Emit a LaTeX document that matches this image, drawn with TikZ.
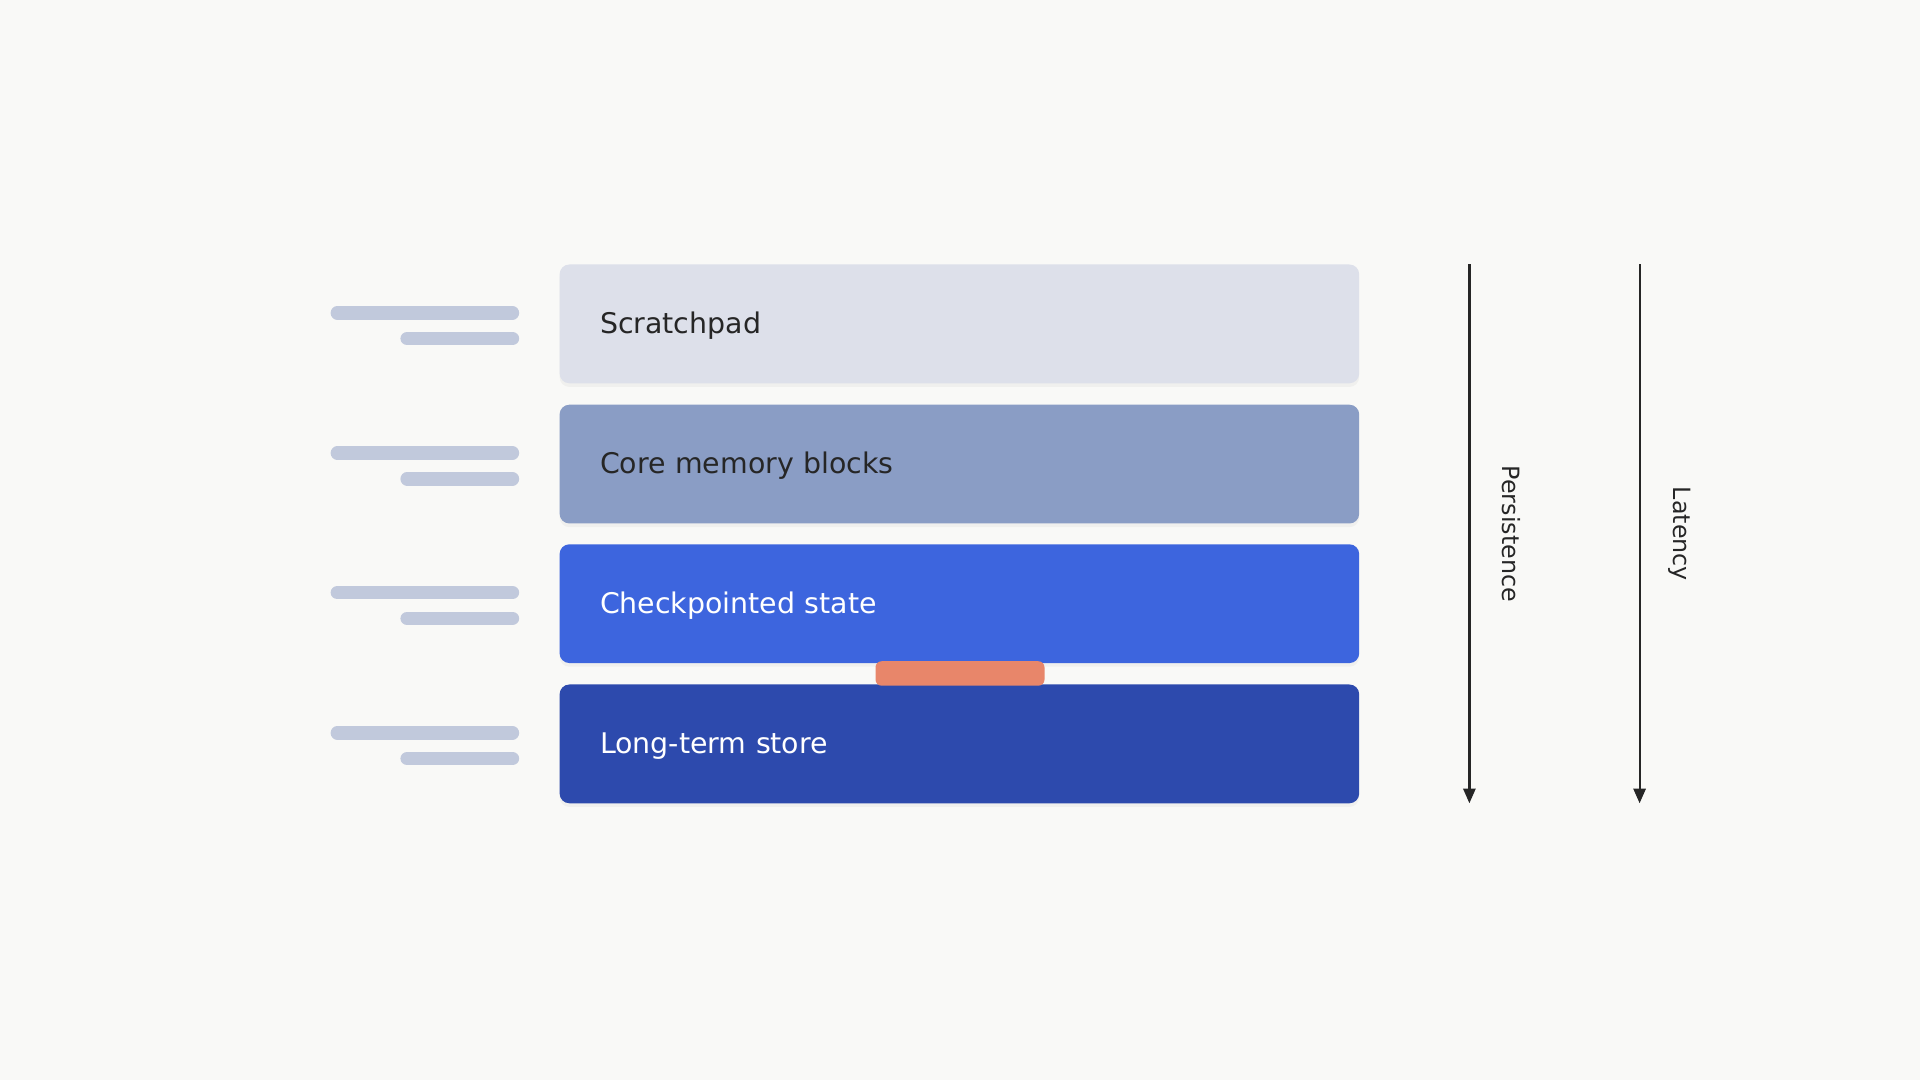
\documentclass[tikz,border=0pt]{standalone}
\usepackage{fontspec}
\setmainfont{DejaVu Sans}
\usepackage{tikz}
\usepackage{xcolor}
\usetikzlibrary{arrows.meta,shadows}
\definecolor{paper}{HTML}{F9F9F7}
\definecolor{ink}{HTML}{262626}
\definecolor{scratchfill}{HTML}{DDE0EA}
\definecolor{corefill}{HTML}{8A9DC5}
\definecolor{checkfill}{HTML}{3D65DE}
\definecolor{storefill}{HTML}{2D4AAD}
\definecolor{barfill}{HTML}{C1C9DC}
\definecolor{tabfill}{HTML}{E8866A}
\tikzset{layer/.style={rectangle, rounded corners=8bp, minimum width=653bp, minimum height=97bp,
    text width=587bp, text height=17.7bp, text depth=1.7bp, inner xsep=33bp, align=left,
    font=\fontsize{23.3}{27}\selectfont,
    drop shadow={opacity=0.07, shadow xshift=0bp, shadow yshift=-3bp}}}
\tikzset{tab/.style={rectangle, rounded corners=5bp, fill=tabfill, minimum width=138bp, minimum height=20bp, inner sep=0pt}}
\tikzset{bar/.style={line width=11bp, line cap=round, draw=barfill}}
\tikzset{arrow/.style={-{Triangle[length=12bp,width=10bp]}, line width=1.8bp, draw=ink}}
\tikzset{axislabel/.style={rotate=-90, text=ink, font=\fontsize{19.5}{23}\selectfont}}

\begin{document}
\begin{tikzpicture}[x=1bp, y=-1bp]
  \fill[paper] (0,0) rectangle (1568,882);
  \useasboundingbox (0,0) rectangle (1568,882);

  \node[layer, fill=scratchfill, text=ink] (scratch) at (783.5,264.5) {Scratchpad};
  \node[layer, fill=corefill, text=ink] (core) at (783.5,379) {Core memory blocks};
  \node[layer, fill=checkfill, text=white] (check) at (783.5,493) {Checkpointed state};
  \node[layer, fill=storefill, text=white] (store) at (783.5,607.5) {Long-term store};

  \node[tab] (link) at (784,550) {};

  \foreach \y in {264.5,379,493,607.5}{
    \draw[bar] (275.5,\y-9) -- (418.5,\y-9);
    \draw[bar] (332.5,\y+12) -- (418.5,\y+12);
  }

  \coordinate (ptop) at (1200,216);
  \coordinate (pend) at (1200,656);
  \coordinate (ltop) at (1339,216);
  \coordinate (lend) at (1339,656);
  \draw[arrow] (ptop) -- (pend);
  \draw[arrow] (ltop) -- (lend);

  \node[axislabel] (plabel) at (1234,436) {Persistence};
  \node[axislabel] (llabel) at (1372,436) {Latency};
\end{tikzpicture}
\end{document}
